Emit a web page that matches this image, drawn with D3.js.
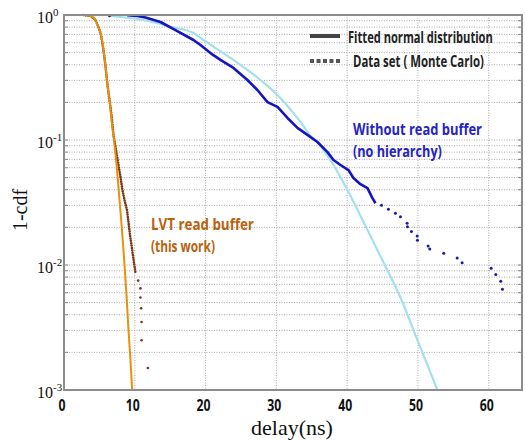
<!DOCTYPE html>
<html>
<head>
<meta charset="utf-8">
<script src="https://cdn.jsdelivr.net/npm/d3@7"></script>
<style>
  body { margin: 0; background: #fff; }
</style>
</head>
<body>
<svg id="chart"></svg>
<script>
// axis ticks
const xTicks = [0, 10, 20, 30, 40, 50, 60];
const yTicks = [1, 0.1, 0.01, 0.001];
const yTickExp = ["0", "-1", "-2", "-3"];

// LVT read buffer (this work) : [delay ns, 1-cdf]
const lvtFit = [[2.75, 1.0], [3.74, 0.982], [4.45, 0.912], [4.87, 0.802], [5.23, 0.692], [5.58, 0.525],
  [5.86, 0.391], [6.14, 0.275], [6.43, 0.209], [6.71, 0.145], [7.06, 0.1], [7.49, 0.0575], [7.84, 0.0331],
  [8.19, 0.0191], [8.55, 0.01], [8.83, 0.00575], [9.11, 0.00302], [9.39, 0.00174], [9.63, 0.001]];
const lvtData = [[2.75, 1.0], [3.74, 0.982], [4.45, 0.912], [4.87, 0.802], [5.23, 0.692], [5.58, 0.525],
  [5.86, 0.391], [6.14, 0.275], [6.43, 0.209], [6.71, 0.158], [6.99, 0.110], [7.34, 0.0832], [7.70, 0.0631],
  [7.98, 0.0506], [8.26, 0.0398], [8.55, 0.0331], [8.90, 0.0275], [9.11, 0.0221], [9.32, 0.0174],
  [9.53, 0.0145], [9.75, 0.0118], [9.96, 0.0098], [10.1, 0.0086]];
const lvtTail = [[10.48, 0.0075], [10.8, 0.0065], [10.8, 0.0055], [10.9, 0.0045], [10.95, 0.0035],
  [10.95, 0.0025], [11.84, 0.0015]];

// Without read buffer (no hierarchy)
const noBufFit = [[6.57, 0.982], [11.23, 0.912], [15.04, 0.806], [18.29, 0.718], [19.70, 0.631],
  [23.94, 0.437], [27.75, 0.302], [30.16, 0.229], [32.42, 0.164], [33.40, 0.140], [34.82, 0.108],
  [35.8, 0.0964], [38.07, 0.0631], [40.04, 0.0398], [42.87, 0.0191], [45.13, 0.0105], [47.53, 0.0055],
  [49.65, 0.00275], [52.75, 0.001]];
const noBufData = [[8.93, 0.994], [10.34, 0.982], [11.51, 0.955], [13.63, 0.879], [15.75, 0.758],
  [18.29, 0.631], [19.28, 0.575], [20.69, 0.496], [22.1, 0.437], [23.94, 0.377], [25.91, 0.302],
  [27.32, 0.251], [28.74, 0.201], [30.16, 0.184], [31.57, 0.150], [32.98, 0.125], [34.39, 0.110],
  [35.8, 0.0964], [37.22, 0.0800], [38.07, 0.0692], [39.06, 0.0631], [40.18, 0.0575], [40.89, 0.0497],
  [41.88, 0.0443], [42.87, 0.0412], [43.57, 0.0343], [44.0, 0.0312]];
const noBufTail = [[6.43, 0.987], [44.85, 0.0300], [45.83, 0.0279], [46.82, 0.0259], [47.53, 0.0243],
  [48.47, 0.0216], [48.52, 0.0202], [49.08, 0.0185], [49.89, 0.0171], [49.93, 0.0158], [51.44, 0.0142],
  [51.67, 0.0134], [53.64, 0.0124], [55.54, 0.0114], [56.24, 0.0104], [60.34, 0.0094], [61.0, 0.0084],
  [61.69, 0.0074], [61.94, 0.0064]];

// squeeze a text horizontally so it spans w pixels from x0
function fitText(sel, x0, y0, w) {
    const natural = sel.node().getComputedTextLength();
    sel.attr("transform", `translate(${x0},${y0}) scale(${w / natural},1)`);
}

class cdfchart {

    constructor(svg, width = 525, height = 441) {
        this.svg = svg;
        this.width = width;
        this.height = height;
        this.left = 64;
        this.right = 522;
        this.top = 15;
        this.bottom = 390;
    }

    initialize() {
        this.svg = d3.select(this.svg)
            .attr("width", this.width)
            .attr("height", this.height);

        this.x = d3.scaleLinear().domain([0, 64.7]).range([this.left, this.right]);
        this.y = d3.scaleLog().domain([0.001, 1]).range([this.bottom, this.top]);

        this.svg.append("clipPath").attr("id", "plotclip")
            .append("rect")
            .attr("x", this.left).attr("y", this.top - 2)
            .attr("width", this.right - this.left).attr("height", this.bottom - this.top + 2);

        this.grid = this.svg.append("g");
        this.container = this.svg.append("g").attr("clip-path", "url(#plotclip)");
        this.frame = this.svg.append("g");
    }

    drawAxes() {
        const x = this.x, y = this.y;
        const minor = y.ticks().filter(d => d > 0.001 && d < 1);

        // horizontal dotted grid at every log tick
        this.grid.selectAll("line.hg")
            .data(minor)
            .enter().append("line")
            .attr("class", "hg")
            .attr("x1", this.left).attr("x2", this.right)
            .attr("y1", d => y(d)).attr("y2", d => y(d))
            .attr("stroke", "#a8a8a8")
            .attr("stroke-width", 1)
            .attr("stroke-dasharray", "1,1.5");

        // vertical dotted grid
        this.grid.selectAll("line.vg")
            .data(xTicks.filter(d => d > 0))
            .enter().append("line")
            .attr("class", "vg")
            .attr("x1", d => x(d)).attr("x2", d => x(d))
            .attr("y1", this.top).attr("y2", this.bottom)
            .attr("stroke", "#a8a8a8")
            .attr("stroke-width", 1)
            .attr("stroke-dasharray", "1,1.5");

        // inward minor ticks on left and right
        [[this.left, 4], [this.right, -4]].forEach(([x0, len]) => {
            this.frame.selectAll(null)
                .data(minor)
                .enter().append("line")
                .attr("x1", x0).attr("x2", x0 + len)
                .attr("y1", d => y(d)).attr("y2", d => y(d))
                .attr("stroke", "#888")
                .attr("stroke-width", 1);
        });

        // plot box
        this.frame.append("rect")
            .attr("x", this.left).attr("y", this.top)
            .attr("width", this.right - this.left)
            .attr("height", this.bottom - this.top)
            .attr("fill", "none")
            .attr("stroke", "#8c8c8c")
            .attr("stroke-width", 2);

        // x tick labels
        this.frame.selectAll("text.xt")
            .data(xTicks)
            .enter().append("text")
            .attr("class", "xt")
            .attr("font-family", "'Open Sans', Lato, sans-serif")
            .attr("font-weight", "bold")
            .attr("font-size", 16)
            .attr("fill", "#111")
            .text(d => d)
            .each(function (d) {
                const w = String(d).length * 7;
                fitText(d3.select(this), x(d) - 2 - w / 2, 411, w);
            });

        // y tick labels 10^k
        const yt = this.frame.selectAll("text.yt")
            .data(yTicks)
            .enter().append("text")
            .attr("class", "yt")
            .attr("x", 37)
            .attr("y", d => y(d) + 8)
            .attr("font-family", "'Liberation Serif', 'DejaVu Serif', serif")
            .attr("font-size", 16)
            .attr("fill", "#111");
        yt.append("tspan").text("10");
        yt.append("tspan")
            .attr("dy", -7)
            .attr("font-size", 11)
            .text((d, i) => yTickExp[i]);

        // axis titles
        this.frame.append("text")
            .attr("x", 292).attr("y", 435)
            .attr("text-anchor", "middle")
            .attr("font-family", "'Liberation Serif', 'DejaVu Serif', serif")
            .attr("font-size", 22)
            .attr("fill", "#111")
            .text("delay(ns)");

        this.frame.append("text")
            .attr("transform", "translate(27,210) rotate(-90)")
            .attr("text-anchor", "middle")
            .attr("font-family", "'Liberation Serif', 'DejaVu Serif', serif")
            .attr("font-size", 20)
            .attr("fill", "#111")
            .text("1-cdf");
    }

    update() {
        const x = this.x, y = this.y;
        const line = d3.line().x(d => x(d[0])).y(d => y(d[1]));
        const smooth = d3.line().x(d => x(d[0])).y(d => y(d[1])).curve(d3.curveMonotoneX);

        // fitted normal, no hierarchy
        this.container.append("path")
            .datum(noBufFit)
            .attr("d", smooth)
            .attr("fill", "none")
            .attr("stroke", "#a2e0ee")
            .attr("stroke-width", 2.2);

        // data set, no hierarchy
        this.container.append("path")
            .datum(noBufData)
            .attr("d", line)
            .attr("fill", "none")
            .attr("stroke", "#1414c4")
            .attr("stroke-width", 2.6)
            .attr("stroke-linejoin", "round");

        this.container.selectAll("circle.nb")
            .data(noBufTail)
            .enter().append("circle")
            .attr("class", "nb")
            .attr("cx", d => x(d[0]))
            .attr("cy", d => y(d[1]))
            .attr("r", 1.5)
            .attr("fill", "#1a1aa8");

        // data set, LVT read buffer
        this.container.append("path")
            .datum(lvtData)
            .attr("d", line)
            .attr("fill", "none")
            .attr("stroke", "#7c3512")
            .attr("stroke-width", 2.6)
            .attr("stroke-linecap", "round")
            .attr("stroke-dasharray", "0,2.4");

        this.container.selectAll("circle.lvt")
            .data(lvtTail)
            .enter().append("circle")
            .attr("class", "lvt")
            .attr("cx", d => x(d[0]))
            .attr("cy", d => y(d[1]))
            .attr("r", 1.3)
            .attr("fill", "#7c3512");

        // fitted normal, LVT read buffer
        this.container.append("path")
            .datum(lvtFit)
            .attr("d", smooth)
            .attr("fill", "none")
            .attr("stroke", "#e8900c")
            .attr("stroke-width", 2);
    }

    labels() {
        const note = (txt, x0, y0, w, color) => {
            const t = this.frame.append("text")
                .attr("font-family", "'Open Sans', Lato, sans-serif")
                .attr("font-weight", "bold")
                .attr("font-size", 16)
                .attr("fill", color)
                .text(txt);
            fitText(t, x0, y0, w);
        };

        // legend
        this.frame.append("line")
            .attr("x1", 310).attr("x2", 340).attr("y1", 36).attr("y2", 36)
            .attr("stroke", "#444").attr("stroke-width", 4);
        this.frame.append("line")
            .attr("x1", 310).attr("x2", 340).attr("y1", 61).attr("y2", 61)
            .attr("stroke", "#555").attr("stroke-width", 4)
            .attr("stroke-dasharray", "4,2.5");
        note("Fitted normal distribution", 348, 43, 145, "#222");
        note("Data set ( Monte Carlo)", 353, 67, 131, "#222");

        note("Without read buffer", 353, 135, 129, "#2424c0");
        note("(no hierarchy)", 353, 157, 89, "#2424c0");
        note("LVT read buffer", 151, 230, 103, "#b8620e");
        note("(this work)", 151, 252, 64, "#b8620e");
    }
}

const chart = new cdfchart(document.getElementById("chart"));
chart.initialize();
chart.drawAxes();
chart.update();
chart.labels();
</script>
</body>
</html>
